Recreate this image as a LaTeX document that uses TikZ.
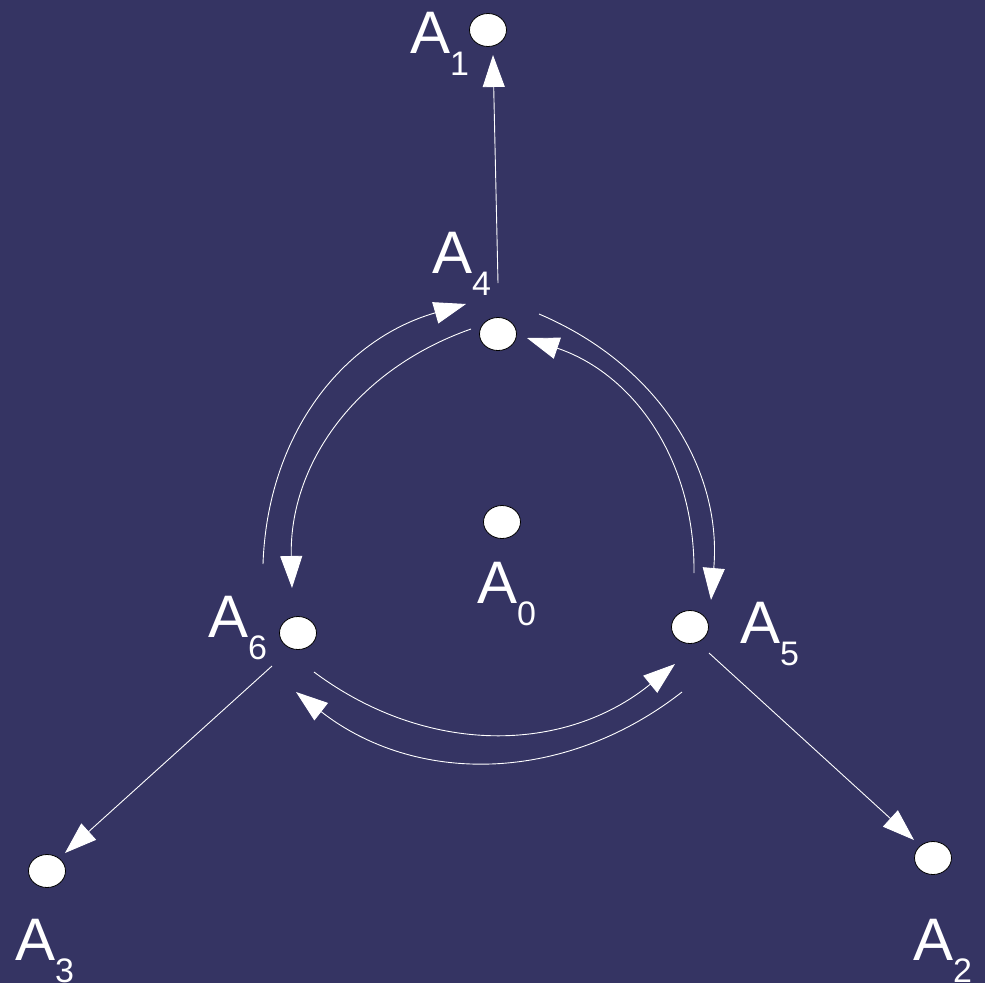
\documentclass[tikz,border=0pt]{standalone}
\usepackage{fontspec}
\setmainfont{Liberation Sans}
\usepackage{tikz}
\usetikzlibrary{shapes,arrows.meta,positioning}
\definecolor{bgblue}{RGB}{53,52,99}
\newcommand{\Asub}[1]{A\raisebox{-22pt}{\fontsize{34}{34}\selectfont #1}}

\begin{document}
\begin{tikzpicture}[x=1pt,y=-1pt,
  dot/.style={draw=black,fill=white,ellipse,line width=0.8pt,minimum width=37pt,minimum height=33pt,inner sep=0pt},
  lbl/.style={text=white,anchor=base west,inner sep=0pt,font=\fontsize{60}{60}\selectfont},
  arr/.style={white,line width=0.9pt,-{Triangle[length=32pt,width=22pt]}}]
\fill[bgblue] (0,0) rectangle (985,983);
\useasboundingbox (0,0) rectangle (985,983);
% points
\node[dot] (a0) at (502,522) {};
\node[dot] (a1) at (488,30) {};
\node[dot] (a2) at (933,858) {};
\node[dot] (a3) at (47,871) {};
\node[dot] (a4) at (498,334) {};
\node[dot] (a5) at (690,627) {};
\node[dot] (a6) at (298,633) {};
% labels
\node[lbl] (l0) at (477,603) {\Asub{0}};
\node[lbl] (l1) at (410,53) {\Asub{1}};
\node[lbl] (l2) at (913,960) {\Asub{2}};
\node[lbl] (l3) at (15,960) {\Asub{3}};
\node[lbl] (l4) at (432,273) {\Asub{4}};
\node[lbl] (l5) at (740,643) {\Asub{5}};
\node[lbl] (l6) at (208,637) {\Asub{6}};
% outward arrows
\draw[arr] ([shift={(0,-51)}]a4.center) -- ([shift={(5,25)}]a1.center);
\draw[arr] ([shift={(-26,33)}]a6.center) -- ([shift={(18,-18)}]a3.center);
\draw[arr] ([shift={(19,26)}]a5.center) -- ([shift={(-19,-18)}]a2.center);
% ring arrows
\draw[arr] ([shift={(-35,-69)}]a6.center) to[bend left=36] ([shift={(-32,-30)}]a4.center);
\draw[arr] ([shift={(-27,-5)}]a4.center) to[bend right=36] ([shift={(-6,-45)}]a6.center);
\draw[arr] ([shift={(41,-20)}]a4.center) to[bend left=36] ([shift={(21,-27)}]a5.center);
\draw[arr] ([shift={(4,-54)}]a5.center) to[bend right=36] ([shift={(29,4)}]a4.center);
\draw[arr] ([shift={(16,39)}]a6.center) to[bend right=38] ([shift={(-15,37)}]a5.center);
\draw[arr] ([shift={(-8,65)}]a5.center) to[bend left=38] ([shift={(-2,59)}]a6.center);
\end{tikzpicture}
\end{document}
